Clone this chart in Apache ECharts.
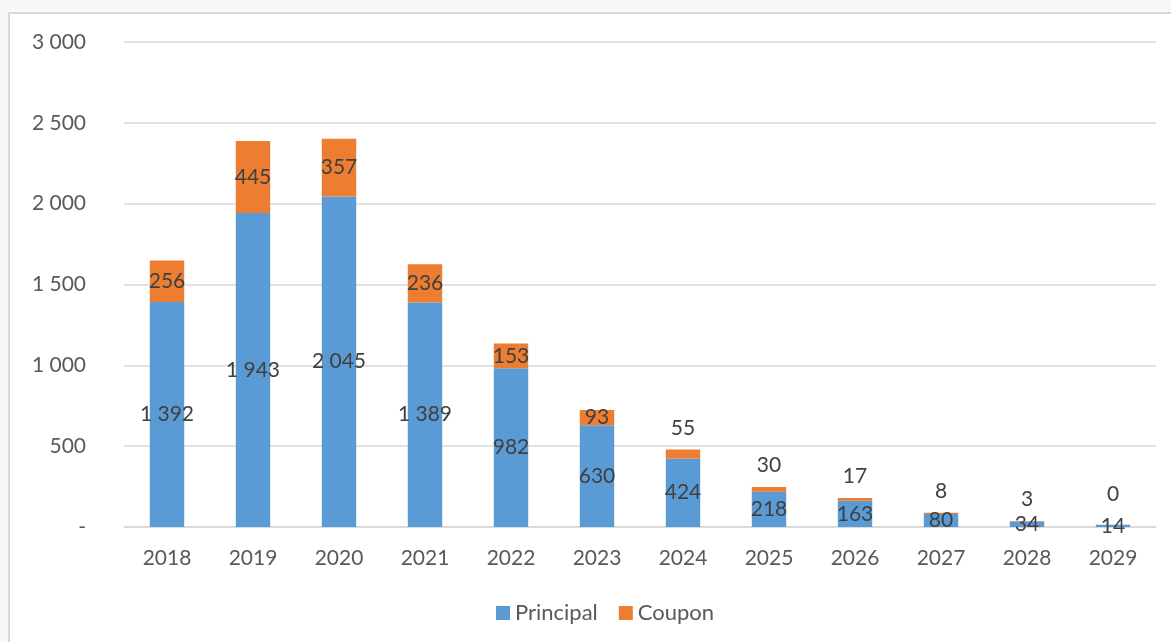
<!DOCTYPE html>
<html>
<head>
<meta charset="utf-8">
<script src="https://cdn.jsdelivr.net/npm/echarts@6/dist/echarts.min.js"></script>
<style>
  html, body { margin: 0; padding: 0; width: 1171px; height: 642px; background: #f7f8f9; overflow: hidden; }
  #panel { position: absolute; left: 8px; top: 12px; width: 1163px; height: 630px; background: #ffffff; border-left: 2px solid #d9d9d9; border-top: 2px solid #d9d9d9; box-sizing: border-box; }
  #chart { position: absolute; left: 0; top: 0; width: 1171px; height: 642px; }
</style>
</head>
<body>
<div id="panel"></div>
<div id="chart"></div>
<script>
const categories = ['2018','2019','2020','2021','2022','2023','2024','2025','2026','2027','2028','2029'];
const principal = [1392, 1943, 2045, 1389, 982, 630, 424, 218, 163, 80, 34, 14];
const coupon = [256, 445, 357, 236, 153, 93, 55, 30, 17, 8, 3, 0];
const yTicks = { min: 0, max: 3000, interval: 500 };

function fmt(v) {
  if (v === 0) return '-';
  return String(v).replace(/\B(?=(\d{3})+(?!\d))/g, ' ');
}
function fmtLabel(v) {
  return String(v).replace(/\B(?=(\d{3})+(?!\d))/g, ' ');
}

const FONT = 'Lato, "Open Sans", sans-serif';
const labelStyle = { fontFamily: FONT, fontSize: 21, color: '#404040' };

const couponData = coupon.map((v, i) => {
  const d = { value: v };
  if (v < 80) {
    d.label = { position: 'top', distance: i === 11 ? 20 : 11 };
  }
  return d;
});

const chart = echarts.init(document.getElementById('chart'), null, { renderer: 'canvas' });
chart.setOption({
  backgroundColor: 'transparent',
  animation: false,
  grid: { left: 124, right: 15, top: 42, bottom: 115, containLabel: false },
  legend: {
    bottom: 13,
    left: 491,
    itemWidth: 14,
    itemHeight: 14,
    itemGap: 21,
    icon: 'rect',
    textStyle: { fontFamily: FONT, fontSize: 22, color: '#595959' },
    data: ['Principal', 'Coupon']
  },
  xAxis: {
    type: 'category',
    data: categories,
    axisLine: { show: true, lineStyle: { color: '#d9d9d9', width: 1.5 } },
    axisTick: { show: false },
    axisLabel: { fontFamily: FONT, fontSize: 21, color: '#595959', margin: 21 }
  },
  yAxis: {
    type: 'value',
    min: yTicks.min,
    max: yTicks.max,
    interval: yTicks.interval,
    axisLine: { show: false },
    axisTick: { show: false },
    splitLine: { lineStyle: { color: '#d9d9d9', width: 1.5 } },
    axisLabel: { fontFamily: FONT, fontSize: 21, color: '#595959', margin: 38, formatter: fmt }
  },
  series: [
    {
      name: 'Principal',
      type: 'bar',
      stack: 'total',
      barWidth: '40%',
      itemStyle: { color: '#5b9bd5' },
      label: Object.assign({ show: true, position: 'inside', formatter: p => fmtLabel(p.value) }, labelStyle),
      data: principal
    },
    {
      name: 'Coupon',
      type: 'bar',
      stack: 'total',
      barWidth: '40%',
      itemStyle: { color: '#ed7d31' },
      label: Object.assign({ show: true, position: 'inside', formatter: p => fmtLabel(p.value) }, labelStyle),
      data: couponData
    }
  ]
});
</script>
</body>
</html>
